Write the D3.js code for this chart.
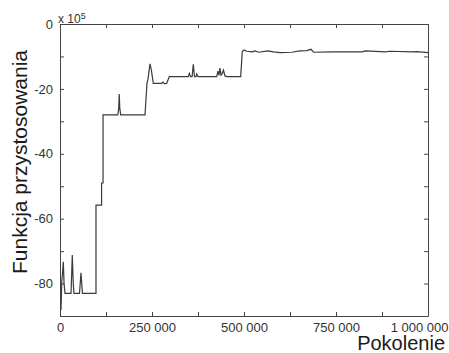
<!DOCTYPE html>
<html>
<head>
<meta charset="utf-8">
<script src="https://cdn.jsdelivr.net/npm/d3@7"></script>
<style>
  body { margin: 0; background: #fff; }
  svg { display: block; font-family: "Liberation Sans", Arial, sans-serif; }
  .axis path, .axis line { stroke: #444; }
  .axis text { fill: #333; font-size: 13px; }
</style>
</head>
<body>
<div id="chart"></div>
<script>
// generation numbers (x) and fitness values in units of 1e5 (y)
var generations = [
  0, 2700, 5000, 7500, 9000, 11000, 13600, 30000, 33400, 36000, 38000,
  53000, 57000, 61000, 97800, 97800, 113000, 113000, 117000, 117000,
  157000, 159500, 161000, 162500, 165000, 231000, 236400, 239100, 244500,
  248000, 253500, 276300, 279900, 283900, 289900, 297000, 348600, 351300,
  354600, 359000, 362200, 365500, 369500, 371500, 375000, 425700, 429300,
  432000, 434700, 437500, 440200, 444200, 448300, 453700, 491000, 495300,
  500000, 508000, 521700, 529800, 540000, 565000, 580000, 597800, 630000,
  652000, 670300, 682000, 689300, 740000, 820500, 830000, 885000, 895000,
  959000, 970000, 1000000
];
var fitness = [
  -88, -88, -79, -76, -73.3, -80, -83, -83, -71.2, -80, -83,
  -83, -76.7, -83, -83, -55.8, -55.8, -49, -49, -28,
  -28, -26, -21.6, -26, -28, -28, -18.2, -17, -12.3,
  -14, -18.3, -18.3, -17.9, -18.4, -18.3, -16.2, -16.2, -15.2,
  -16.2, -16.2, -12.4, -16.2, -16.2, -15.4, -16.2, -16.2, -14.5,
  -15.8, -13.6, -15.8, -15.5, -14.2, -16, -16.2, -16.2, -8.5,
  -8.0, -8.4, -8.6, -8.3, -8.7, -8.3, -8.6, -8.8, -8.7,
  -8.3, -8.2, -7.8, -8.7, -8.6, -8.6, -8.3, -8.6, -8.4,
  -8.6, -8.5, -8.8
];
var xTicks = [0, 125000, 250000, 375000, 500000, 625000, 750000, 875000, 1000000];
var xLabels = [0, 250000, 500000, 750000, 1000000];
var yTicks = [-90, -80, -70, -60, -50, -40, -30, -20, -10, 0];
var yLabels = [-80, -60, -40, -20, 0];

var W = 449, H = 353;
var box = {left: 60, right: 428, top: 24, bottom: 316};

var svg = d3.select("#chart").append("svg")
    .attr("width", W)
    .attr("height", H);

var x = d3.scaleLinear().domain([0, 1000000]).range([box.left, box.right]);
var y = d3.scaleLinear().domain([-90, 0]).range([box.bottom, box.top]);

var spaced = d3.formatLocale({decimal: ".", thousands: " ", grouping: [3], currency: ["", ""]}).format(",");

// bottom axis, ticks pointing inward
var xAxis = svg.append("g")
    .attr("class", "axis")
    .attr("transform", "translate(0," + box.bottom + ")")
    .call(d3.axisBottom(x)
        .tickValues(xTicks)
        .tickSize(-4)
        .tickSizeOuter(0)
        .tickPadding(7)
        .tickFormat(function(d) { return xLabels.indexOf(d) >= 0 ? spaced(d) : ""; }));

// the last label is pulled back inside the window
xAxis.selectAll(".tick text")
    .filter(function(d) { return d === 1000000; })
    .attr("text-anchor", "end")
    .attr("x", 20);

svg.append("g")
    .attr("class", "axis")
    .attr("transform", "translate(" + box.left + ",0)")
    .call(d3.axisLeft(y)
        .tickValues(yTicks)
        .tickSize(-4)
        .tickSizeOuter(0)
        .tickPadding(7)
        .tickFormat(function(d) { return yLabels.indexOf(d) >= 0 ? d : ""; }));

// top and right edges of the box, ticks only
svg.append("g")
    .attr("class", "axis")
    .attr("transform", "translate(0," + box.top + ")")
    .call(d3.axisTop(x).tickValues(xTicks).tickSize(-4).tickSizeOuter(0).tickFormat(""));

svg.append("g")
    .attr("class", "axis")
    .attr("transform", "translate(" + box.right + ",0)")
    .call(d3.axisRight(y).tickValues(yTicks).tickSize(-4).tickSizeOuter(0).tickFormat(""));

// the fitness curve
var line = d3.line()
    .x(function(d) { return x(d[0]); })
    .y(function(d) { return y(d[1]); });

svg.append("path")
    .datum(d3.zip(generations, fitness))
    .attr("d", line)
    .attr("fill", "none")
    .attr("stroke", "#3a3a3a")
    .attr("stroke-width", 1.2);

// exponent note
var expo = svg.append("text")
    .attr("x", 58)
    .attr("y", 23)
    .style("font-size", "12px")
    .style("fill", "#333");
expo.append("tspan").text("x 10");
expo.append("tspan").attr("dy", -4).style("font-size", "9px").text("5");

// axis titles
svg.append("text")
    .attr("x", 445)
    .attr("y", 350)
    .attr("text-anchor", "end")
    .style("font-size", "20px")
    .style("fill", "#1a1a1a")
    .text("Pokolenie");

svg.append("text")
    .attr("transform", "translate(27,162) rotate(-90)")
    .attr("text-anchor", "middle")
    .style("font-size", "21px")
    .style("fill", "#1a1a1a")
    .text("Funkcja przystosowania");
</script>
</body>
</html>
